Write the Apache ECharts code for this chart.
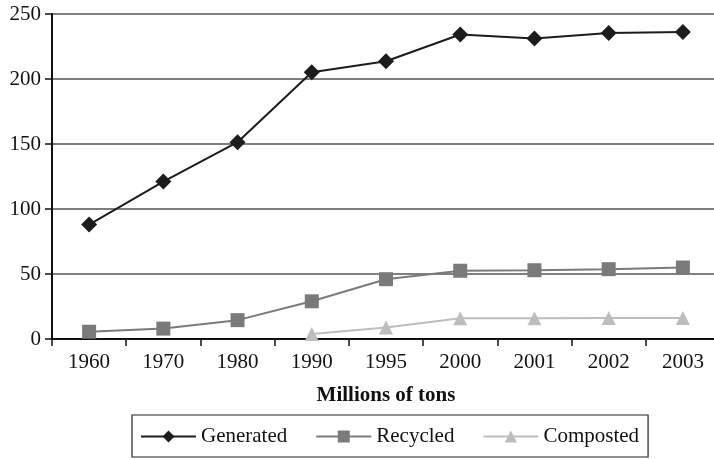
<!DOCTYPE html>
<html>
<head>
<meta charset="utf-8">
<script src="https://cdn.jsdelivr.net/npm/echarts@6/dist/echarts.min.js"></script>
<style>
  html, body { margin: 0; padding: 0; background: #fff; }
  #chart { width: 714px; height: 459px; }
</style>
</head>
<body>
<div id="chart"></div>
<script>
// Municipal solid waste, millions of tons
const years = ['1960', '1970', '1980', '1990', '1995', '2000', '2001', '2002', '2003'];
const generated = [88.0, 121.1, 151.4, 205.2, 213.7, 234.2, 231.1, 235.3, 236.1];
const recycled = [5.6, 8.0, 14.5, 29.0, 46.0, 52.5, 52.9, 53.7, 55.0];
const composted = [null, null, null, 3.8, 8.8, 16.0, 16.0, 16.2, 16.2];
const yTicks = { min: 0, max: 250, interval: 50 };

const serif = '"Liberation Serif", "DejaVu Serif", serif';

const chart = echarts.init(document.getElementById('chart'), null, { renderer: 'canvas' });

chart.setOption({
  animation: false,
  backgroundColor: '#fff',
  // plot runs a little past the right edge of the canvas
  grid: { left: 52, width: 668, top: 14, bottom: 120, outerBoundsMode: 'none' },
  xAxis: {
    type: 'category',
    data: years,
    boundaryGap: true,
    name: 'Millions of tons',
    nameLocation: 'middle',
    nameGap: 46,
    nameTextStyle: { fontFamily: serif, fontSize: 21, fontWeight: 'bold', color: '#111' },
    axisLine: { lineStyle: { color: '#111', width: 2 } },
    axisTick: { show: true, length: 7, lineStyle: { color: '#111', width: 1.5 } },
    axisLabel: { fontFamily: serif, fontSize: 21, color: '#111', margin: 13 }
  },
  yAxis: {
    type: 'value',
    min: yTicks.min,
    max: yTicks.max,
    interval: yTicks.interval,
    axisLine: { show: true, lineStyle: { color: '#111', width: 2 } },
    axisTick: { show: true, length: 7, lineStyle: { color: '#111', width: 1.5 } },
    axisLabel: { fontFamily: serif, fontSize: 21, color: '#111', margin: 11 },
    splitLine: { lineStyle: { color: '#555', width: 1.5 } }
  },
  legend: {
    left: 132,
    top: 415,
    padding: [11, 9, 10, 8],
    itemGap: 28,
    itemWidth: 55,
    itemHeight: 15,
    borderColor: '#222',
    borderWidth: 1.2,
    textStyle: { fontFamily: serif, fontSize: 21, color: '#111' },
    data: ['Generated', 'Recycled', 'Composted']
  },
  series: [
    {
      name: 'Generated',
      type: 'line',
      data: generated,
      symbol: 'diamond',
      symbolSize: 16,
      itemStyle: { color: '#1c1c1c' },
      lineStyle: { color: '#1c1c1c', width: 2 }
    },
    {
      name: 'Recycled',
      type: 'line',
      data: recycled,
      symbol: 'rect',
      symbolSize: 14,
      itemStyle: { color: '#7a7a7a' },
      lineStyle: { color: '#7a7a7a', width: 2 }
    },
    {
      name: 'Composted',
      type: 'line',
      data: composted,
      symbol: 'triangle',
      symbolSize: 14,
      itemStyle: { color: '#bdbdbd' },
      lineStyle: { color: '#bdbdbd', width: 2 }
    }
  ]
});
</script>
</body>
</html>
